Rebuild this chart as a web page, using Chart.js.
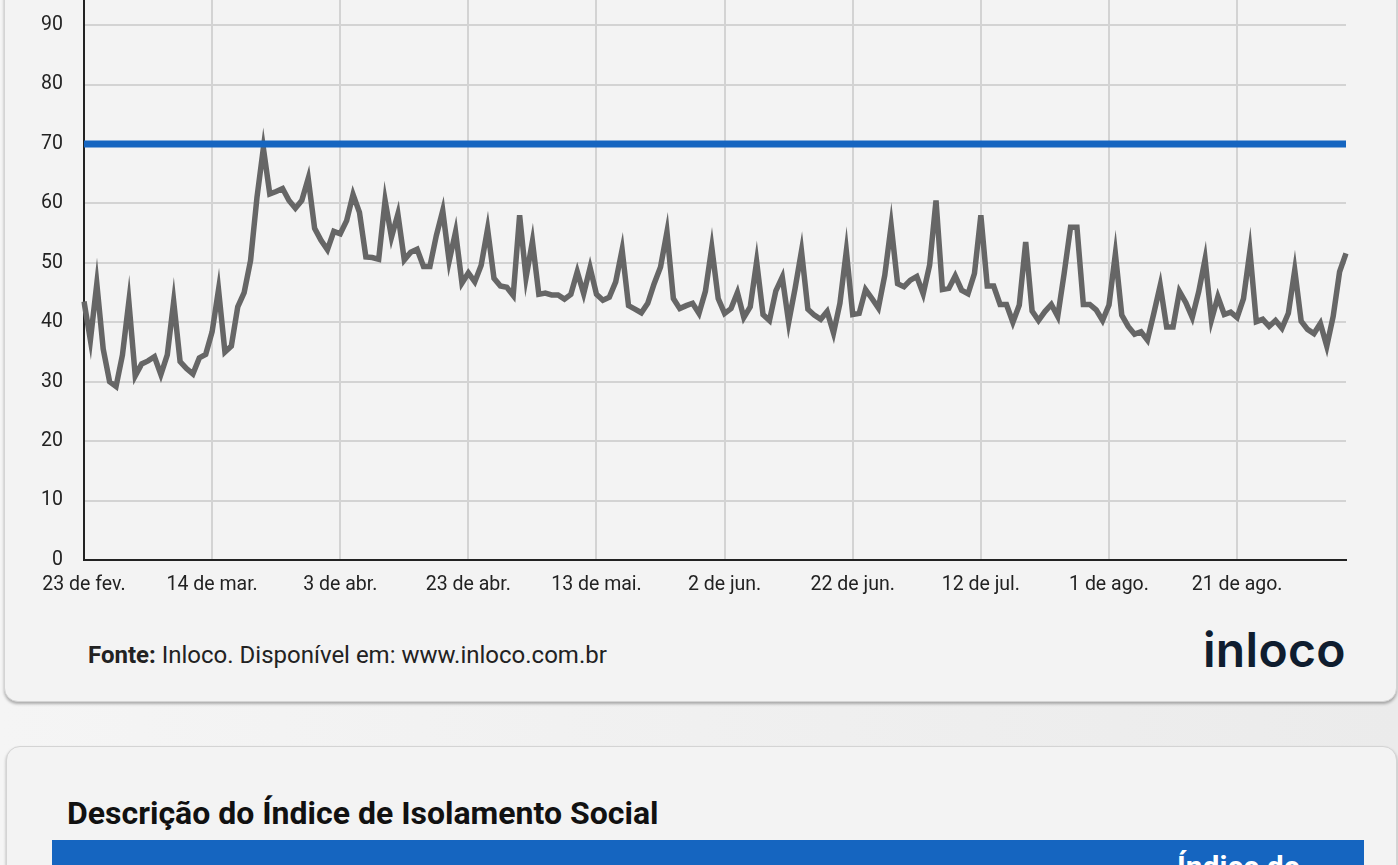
<!DOCTYPE html>
<html lang="pt-BR">
<head>
<meta charset="utf-8">
<script src="https://cdn.jsdelivr.net/npm/chart.js@4.4.0/dist/chart.umd.min.js"></script>
<style>
html, body { margin: 0; padding: 0; }
body {
  width: 1398px; height: 865px; overflow: hidden; position: relative;
  background: linear-gradient(to right, #f5f5f5, #ebebeb);
  font-family: Roboto, "Noto Sans", sans-serif; color: #222;
}
.card {
  position: absolute; background: #f3f3f3;
  border: 1px solid #d4d4d4; border-radius: 14px;
  box-shadow: 0 2px 3px rgba(0,0,0,.3);
}
#card1 { left: 4px; top: -300px; width: 1391px; height: 1000px; }
#card2 { left: 6px; top: 746px; width: 1389px; height: 300px; }
#grafico-box { position: absolute; left: 0; top: -67px; width: 1398px; height: 667px; }
#fonte { position: absolute; left: 88px; top: 641px; font-size: 24px; line-height: 28px; color: #222; }
#logo { position: absolute; left: 1203px; top: 620px; font: 600 48px Inter, sans-serif; color: #0f1d2f; letter-spacing: 0.3px; }
#titulo { position: absolute; left: 67px; top: 794px; font-size: 32px; font-weight: bold; color: #111; }
#cabecalho { position: absolute; left: 52px; top: 840px; width: 1312px; height: 60px; background: #1565c0; }
#cabecalho span { position: absolute; left: 1125px; top: 9px; font-size: 30px; font-weight: bold; color: #fff; }
</style>
</head>
<body>
<div class="card" id="card1"></div>
<div id="grafico-box"><canvas id="grafico"></canvas></div>
<div id="fonte"><b>Fonte:</b> Inloco. Disponível em: www.inloco.com.br</div>
<div id="logo">inloco</div>
<div class="card" id="card2"></div>
<div id="titulo">Descrição do Índice de Isolamento Social</div>
<div id="cabecalho"><span>Índice de</span></div>
<script>
// Índice de isolamento social (%), um valor por dia, a partir de 23/02
const fev = [43.5, 37, 46.5, 35.5, 30, 29.2, 34.5];
const mar = [43.5, 31, 33, 33.5, 34.2, 31.2, 34.5, 43.5, 33.4, 32.2, 31.3, 34, 34.6, 38.4, 45.5, 35,
             36, 42.6, 45, 50.4, 61, 69.3, 61.6, 62, 62.5, 60.5, 59.2, 60.5, 64.2, 55.8, 53.8];
const abr = [52.2, 55.3, 54.9, 57.1, 61.5, 58.5, 51, 50.9, 50.6, 60.5, 54.3, 58.2, 50.5, 51.8, 52.3,
             49.4, 49.4, 54.6, 58.8, 50.3, 55.2, 46.6, 48.3, 46.8, 49.6, 55.7, 47.4, 46.1, 45.9, 44.5];
const mai = [58, 47.5, 53.6, 44.7, 44.9, 44.6, 44.6, 43.9, 44.7, 48.5, 44.8, 49.2, 44.7, 43.7, 44.2, 46.8,
             52.2, 42.8, 42.2, 41.6, 43.2, 46.5, 49.3, 55.2, 44, 42.3, 42.8, 43.2, 41.5, 45.2, 52.6];
const jun = [44, 41.5, 42.3, 45, 40.8, 42.6, 50.2, 41.3, 40.3, 45.3, 47.6, 40, 45.7, 52, 42.2,
             41.2, 40.5, 41.8, 38.2, 43.2, 52, 41.3, 41.5, 45.5, 44, 42.4, 47.9, 56.3, 46.5, 46];
const jul = [47.1, 47.7, 44.8, 49.6, 60.5, 45.5, 45.7, 47.8, 45.4, 44.8, 48.2, 58, 46.1, 46.1, 43, 43,
             40, 42.9, 53.5, 41.9, 40.3, 41.8, 43, 41, 48.2, 56, 56, 43, 43, 42.1, 40.3];
const ago = [42.9, 51.5, 41.2, 39.3, 38, 38.4, 37, 41.5, 46.2, 39.2, 39.2, 45.2, 43.3, 40.8, 45.1, 50.6,
             40.4, 44.3, 41.3, 41.7, 40.8, 44, 52, 40.1, 40.5, 39.3, 40.3, 39, 41.5, 48.8, 40.2];
const set = [38.8, 38.1, 39.8, 36, 41, 48.5, 51.6];

const meses = [['fev', 23, fev], ['mar', 1, mar], ['abr', 1, abr], ['mai', 1, mai],
               ['jun', 1, jun], ['jul', 1, jul], ['ago', 1, ago], ['set', 1, set]];
const META = 70;

const dias = [];
const indice = [];
meses.forEach(([nome, inicio, valores]) => {
  valores.forEach((v, i) => {
    dias.push((inicio + i) + ' de ' + nome + '.');
    indice.push(v);
  });
});

const fonteEixo = { family: 'Roboto', size: 19.5 };

new Chart(document.getElementById('grafico'), {
  type: 'line',
  data: {
    labels: dias,
    datasets: [
      {
        label: 'Meta',
        data: [{ x: dias[0], y: META }, { x: dias[dias.length - 1], y: META }],
        borderColor: '#1565c0', borderWidth: 7, pointRadius: 0
      },
      {
        label: 'Índice de isolamento',
        data: indice,
        borderColor: '#666666', borderWidth: 5.5, pointRadius: 0, tension: 0
      }
    ]
  },
  options: {
    responsive: true,
    maintainAspectRatio: false,
    animation: false,
    layout: { padding: { top: 25, right: 52, bottom: 0, left: 0 } },
    plugins: { legend: { display: false }, tooltip: { enabled: false } },
    scales: {
      x: {
        offset: false,
        grid: {
          drawTicks: false, lineWidth: 2,
          color: c => c.index % 20 === 0 ? '#d3d3d3' : 'rgba(0,0,0,0)'
        },
        border: { color: '#222', width: 2 },
        ticks: {
          autoSkip: false, maxRotation: 0, padding: 13, color: '#222', font: fonteEixo,
          callback: (v, i) => i % 20 === 0 ? dias[i] : ''
        },
        afterFit: s => { s.height = 40; }
      },
      y: {
        min: 0, max: 100,
        grid: { drawTicks: false, lineWidth: 2, color: '#d3d3d3' },
        border: { color: '#222', width: 2 },
        ticks: { stepSize: 10, padding: 21, color: '#222', font: fonteEixo },
        afterFit: s => { s.width = 84; }
      }
    }
  }
});
</script>
</body>
</html>
